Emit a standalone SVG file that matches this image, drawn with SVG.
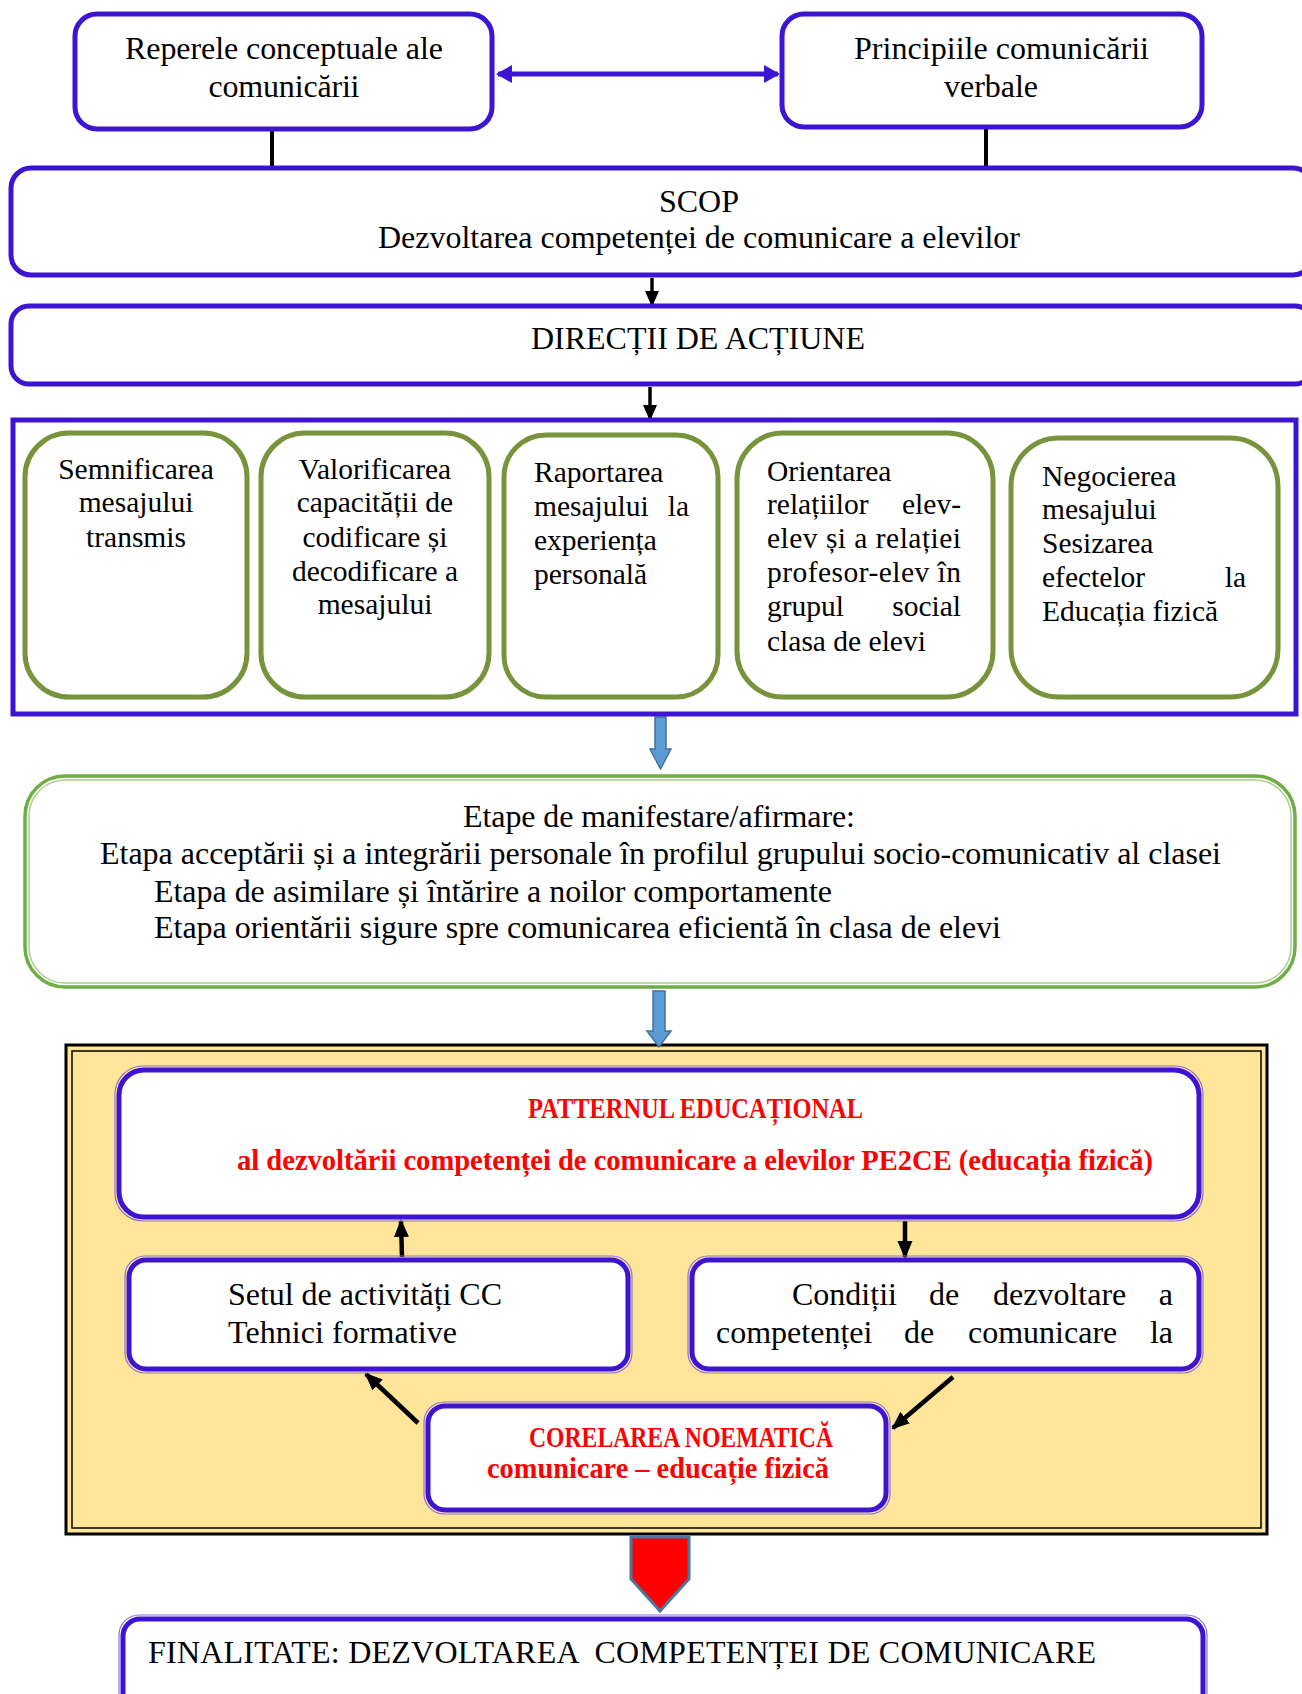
<svg xmlns="http://www.w3.org/2000/svg" width="1302" height="1694" viewBox="0 0 1302 1694">
<style>
.t{font-family:"Liberation Serif","Times New Roman",serif;font-size:32px;fill:#000}
.g{font-family:"Liberation Serif","Times New Roman",serif;font-size:29.5px;fill:#000}
.r{font-family:"Liberation Serif","Times New Roman",serif;font-size:29px;font-weight:bold;fill:#f00}
.c{text-anchor:middle}
.e{text-anchor:end}
.blue{fill:#fff;stroke:#3c14d2;stroke-width:5}
.blue2{fill:#fff;stroke:#3c14d2;stroke-width:5}
.thin{fill:none;stroke:#8a70e0;stroke-width:1.2}
.grn{fill:#fff;stroke:#77933c;stroke-width:5}
.ln{stroke:#000;stroke-width:4;fill:none}
.ar{stroke:#000;stroke-width:3.5;fill:none;marker-end:url(#ah)}
.ar2{stroke:#000;stroke-width:4.5;fill:none;marker-end:url(#ah2)}
.fat{fill:#5b9bd5;stroke:#41719c;stroke-width:1.5}
</style>
<defs>
<marker id="ah" markerUnits="userSpaceOnUse" markerWidth="16" markerHeight="16" viewBox="0 0 16 16" refX="14" refY="8" orient="auto">
<path d="M0,1 L16,8 L0,15 Z" fill="#000"/>
</marker>
<marker id="ah2" markerUnits="userSpaceOnUse" markerWidth="18" markerHeight="16" viewBox="0 0 18 16" refX="16" refY="8" orient="auto">
<path d="M0,0.5 L18,8 L0,15.5 Z" fill="#000"/>
</marker>
<marker id="bh" markerUnits="userSpaceOnUse" markerWidth="16" markerHeight="18" viewBox="0 0 16 18" refX="14" refY="9" orient="auto-start-reverse">
<path d="M0,0 L16,9 L0,18 Z" fill="#3c14d2"/>
</marker>
</defs>

<g id="pattern-frame">
<rect x="66" y="1045" width="1201" height="489" fill="#ffe599" stroke="#000" stroke-width="3"/>
<rect x="72" y="1051" width="1189" height="477" fill="none" stroke="#000" stroke-width="1.5"/>
</g>

<g id="connectors">
<line x1="498" y1="74" x2="778" y2="74" stroke="#3c14d2" stroke-width="5" marker-start="url(#bh)" marker-end="url(#bh)"/>
<line class="ln" x1="272" y1="130" x2="272" y2="166"/>
<line class="ln" x1="986" y1="128" x2="986" y2="166"/>
<line class="ar" x1="652" y1="278" x2="652" y2="305"/>
<line class="ar" x1="650" y1="387" x2="650" y2="419"/>
<polygon class="fat" points="655,717 666,717 666,749 671,749 660.5,769 650,749 655,749"/>
<polygon class="fat" points="653,991 665,991 665,1031 671,1031 659,1047 647,1031 653,1031"/>
<line class="ar2" x1="402" y1="1257" x2="401" y2="1221"/>
<line class="ar2" x1="905" y1="1221" x2="905" y2="1257"/>
<line class="ar2" x1="418" y1="1423" x2="366" y2="1374"/>
<line class="ar2" x1="953" y1="1377" x2="893" y2="1428"/>
<polygon points="631,1537 689,1537 689,1579 660,1611 631,1579" fill="#f00" stroke="#4a76a0" stroke-width="3"/>
</g>

<g id="reperele">
<rect class="blue" x="75" y="14" width="417" height="115" rx="22"/>
<text class="t c" x="284" y="59" textLength="318">Reperele conceptuale ale</text>
<text class="t c" x="284" y="97" textLength="151">comunicării</text>
</g>

<g id="principiile">
<rect class="blue" x="782" y="14" width="420" height="113" rx="22"/>
<text class="t" x="854" y="59" textLength="295">Principiile comunicării</text>
<text class="t c" x="991" y="97" textLength="94">verbale</text>
</g>

<g id="scop">
<rect class="blue" x="11" y="168" width="1302" height="107" rx="20"/>
<text class="t c" x="699" y="212" textLength="80">SCOP</text>
<text class="t c" x="699" y="248" textLength="642">Dezvoltarea competenței de comunicare a elevilor</text>
</g>

<g id="directii">
<rect class="blue" x="11" y="306" width="1302" height="78" rx="18"/>
<text class="t c" x="698" y="349" textLength="334">DIRECȚII DE ACȚIUNE</text>
</g>

<g id="directii-group">
<rect x="13" y="420" width="1283" height="294" fill="none" stroke="#3c14d2" stroke-width="5"/>
</g>

<g id="semnificarea">
<rect class="grn" x="25" y="433" width="222" height="264" rx="44"/>
<text class="g c" x="136" y="479">Semnificarea</text>
<text class="g c" x="136" y="512">mesajului</text>
<text class="g c" x="136" y="547">transmis</text>
</g>

<g id="valorificarea">
<rect class="grn" x="261" y="433" width="228" height="264" rx="44"/>
<text class="g c" x="375" y="479">Valorificarea</text>
<text class="g c" x="375" y="512">capacității de</text>
<text class="g c" x="375" y="547">codificare și</text>
<text class="g c" x="375" y="581">decodificare a</text>
<text class="g c" x="375" y="614">mesajului</text>
</g>

<g id="raportarea">
<rect class="grn" x="504" y="435" width="214" height="262" rx="42"/>
<text class="g" x="534" y="482">Raportarea</text>
<text class="g" x="534" y="516">mesajului</text>
<text class="g e" x="689" y="516">la</text>
<text class="g" x="534" y="550">experiența</text>
<text class="g" x="534" y="584">personală</text>
</g>

<g id="orientarea">
<rect class="grn" x="737" y="433" width="256" height="264" rx="46"/>
<text class="g" x="767" y="481">Orientarea</text>
<text class="g" x="767" y="514">relațiilor</text>
<text class="g e" x="961" y="514">elev-</text>
<text class="g" x="767" y="548" textLength="194">elev și a relației</text>
<text class="g" x="767" y="582" textLength="194">profesor-elev în</text>
<text class="g" x="767" y="616">grupul</text>
<text class="g e" x="961" y="616">social</text>
<text class="g" x="767" y="651">clasa de elevi</text>
</g>

<g id="negocierea">
<rect class="grn" x="1011" y="438" width="267" height="259" rx="48"/>
<text class="g" x="1042" y="486">Negocierea</text>
<text class="g" x="1042" y="519">mesajului</text>
<text class="g" x="1042" y="553">Sesizarea</text>
<text class="g" x="1042" y="587">efectelor</text>
<text class="g e" x="1246" y="587">la</text>
<text class="g" x="1042" y="621">Educația fizică</text>
</g>

<g id="etape">
<rect x="25" y="776" width="1270" height="211" rx="40" fill="#fff" stroke="#70ad47" stroke-width="3.5"/>
<rect x="29" y="780" width="1262" height="203" rx="36" fill="none" stroke="#a9d18e" stroke-width="1.5"/>
<text class="t c" x="659" y="827" font-size="30" textLength="392">Etape de manifestare/afirmare:</text>
<text class="t" x="100" y="864" font-size="30" textLength="1121">Etapa acceptării și a integrării personale în profilul grupului socio-comunicativ al clasei</text>
<text class="t" x="154" y="902" font-size="30" textLength="678">Etapa de asimilare și întărire a noilor comportamente</text>
<text class="t" x="154" y="938" font-size="30" textLength="847">Etapa orientării sigure spre comunicarea eficientă în clasa de elevi</text>
</g>

<g id="patternul">
<rect class="thin" x="115" y="1066" width="1088" height="155" rx="28"/>
<rect class="blue2" x="119" y="1070" width="1080" height="147" rx="25"/>
<text class="r" x="528" y="1118" textLength="335" lengthAdjust="spacingAndGlyphs">PATTERNUL EDUCAȚIONAL</text>
<text class="r" x="237" y="1170" textLength="916" lengthAdjust="spacingAndGlyphs">al dezvoltării competenței de comunicare a elevilor PE2CE (educația fizică)</text>
</g>

<g id="setul">
<rect class="thin" x="125" y="1256" width="507" height="117" rx="20"/>
<rect class="blue2" x="129" y="1260" width="499" height="109" rx="17"/>
<text class="t" x="228" y="1305" textLength="274">Setul de activități CC</text>
<text class="t" x="228" y="1343" textLength="229">Tehnici formative</text>
</g>

<g id="conditii">
<rect class="thin" x="688" y="1256" width="515" height="117" rx="20"/>
<rect class="blue2" x="692" y="1260" width="507" height="109" rx="17"/>
<text class="t" x="792" y="1305">Condiții</text>
<text class="t" x="929" y="1305">de</text>
<text class="t" x="993" y="1305">dezvoltare</text>
<text class="t e" x="1173" y="1305">a</text>
<text class="t" x="716" y="1343">competenței</text>
<text class="t" x="904" y="1343">de</text>
<text class="t" x="968" y="1343">comunicare</text>
<text class="t e" x="1173" y="1343">la</text>
</g>

<g id="corelarea">
<rect class="thin" x="424" y="1402" width="466" height="112" rx="20"/>
<rect class="blue2" x="428" y="1406" width="458" height="104" rx="17"/>
<text class="r" x="529" y="1447" textLength="304" lengthAdjust="spacingAndGlyphs">CORELAREA NOEMATICĂ</text>
<text class="r" x="487" y="1478" textLength="342" lengthAdjust="spacingAndGlyphs">comunicare – educație fizică</text>
</g>

<g id="finalitate">
<rect class="thin" x="119" y="1615" width="1088" height="110" rx="20"/>
<rect class="blue2" x="123" y="1619" width="1080" height="102" rx="17"/>
<text class="t" x="148" y="1663" textLength="948" style="white-space:pre">FINALITATE: DEZVOLTAREA  COMPETENȚEI DE COMUNICARE</text>
</g>
</svg>
